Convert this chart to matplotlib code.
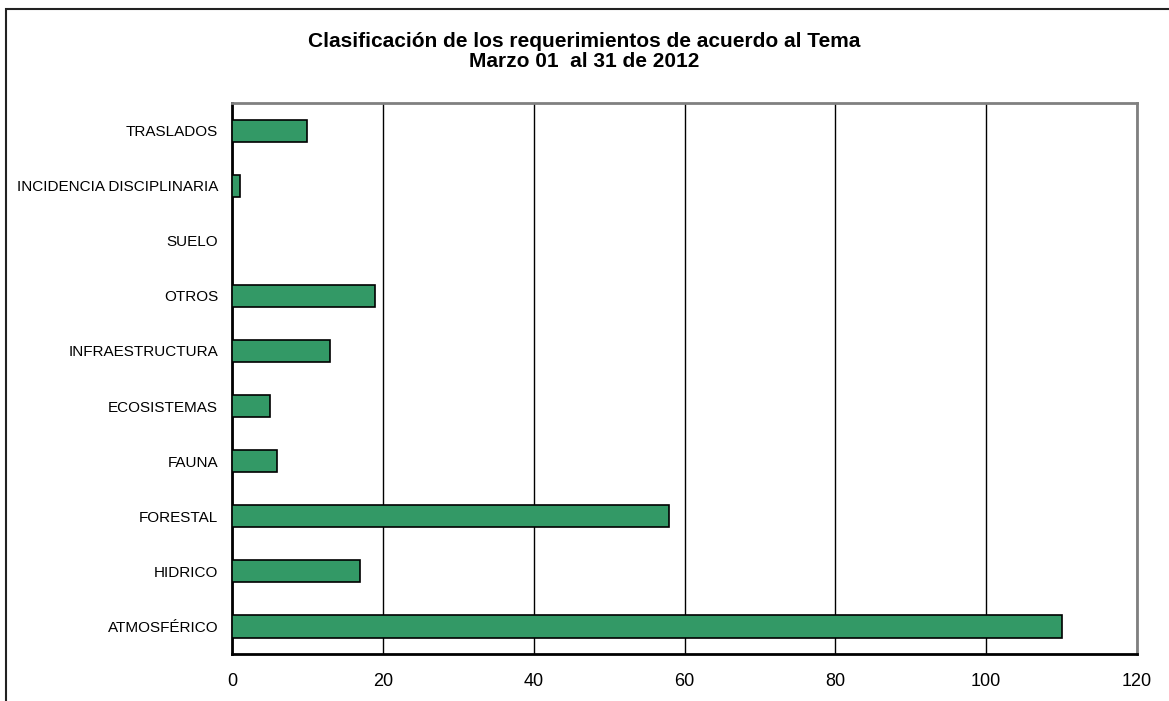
import matplotlib
matplotlib.use("Agg")
import matplotlib.pyplot as plt
import matplotlib.patches as patches

# data (bottom to top, as drawn)
temas = ['ATMOSFÉRICO', 'HIDRICO', 'FORESTAL', 'FAUNA', 'ECOSISTEMAS',
         'INFRAESTRUCTURA', 'OTROS', 'SUELO', 'INCIDENCIA DISCIPLINARIA', 'TRASLADOS']
requerimientos = [110, 17, 58, 6, 5, 13, 19, 0, 1, 10]
x_ticks = [0, 20, 40, 60, 80, 100, 120]

plt.rcParams['font.family'] = ['Liberation Sans', 'DejaVu Sans']

fig = plt.figure(figsize=(11.69, 7.01), dpi=100)
ax = fig.add_axes([0.1985, 0.067, 0.7741, 0.786])

pos = range(len(temas))
ax.barh(pos, requerimientos, height=0.4, color='#339966',
        edgecolor='black', linewidth=1.2, zorder=3)

ax.set_xlim(0, 120)
ax.set_ylim(-0.5, len(temas) - 0.5)
ax.set_xticks(x_ticks)
ax.set_yticks(list(pos))
ax.set_yticklabels(temas, fontsize=11)
ax.tick_params(axis='x', labelsize=13, length=0, pad=14)
ax.tick_params(axis='y', length=0, pad=10)

ax.xaxis.grid(True, color='black', linewidth=1)
ax.set_axisbelow(True)

for s in ['left', 'bottom']:
    ax.spines[s].set_color('black')
    ax.spines[s].set_linewidth(2)
for s in ['top', 'right']:
    ax.spines[s].set_color('#808080')
    ax.spines[s].set_linewidth(2)

fig.text(0.5, 0.9265, 'Clasificación de los requerimientos de acuerdo al Tema\nMarzo 01  al 31 de 2012',
         ha='center', va='center', fontsize=15, fontweight='bold', linespacing=1.1)

# outer chart frame (right and bottom edges fall outside the picture)
frame = patches.Rectangle((6 / 1169, -0.1), 1.2, 1 - 9 / 701 + 0.1,
                          transform=fig.transFigure, fill=False,
                          edgecolor='#222222', linewidth=1.5, clip_on=False)
fig.patches.append(frame)

fig.savefig('out.png', dpi=100)
